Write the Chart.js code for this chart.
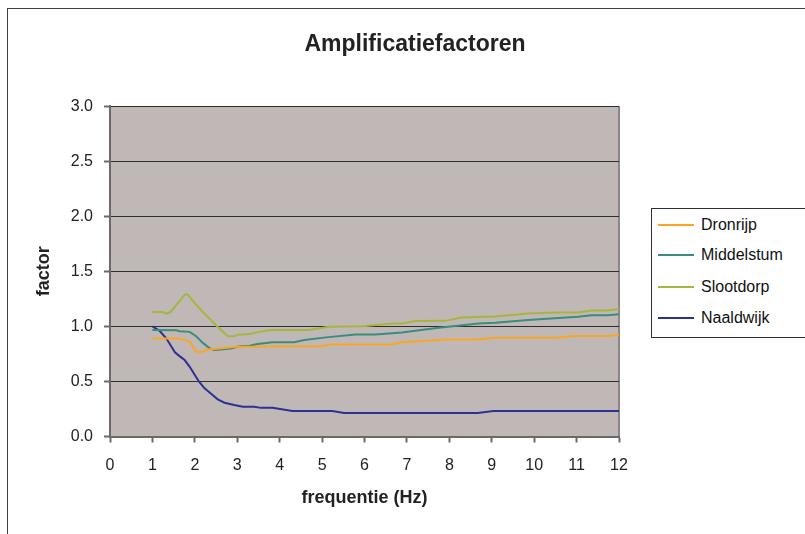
<!DOCTYPE html>
<html>
<head>
<meta charset="utf-8">
<script src="https://cdn.jsdelivr.net/npm/chart.js@4.4.1/dist/chart.umd.min.js"></script>
<style>
  body { margin: 0; background: #fff; overflow: hidden; }
  #wrap { position: relative; width: 805px; height: 534px; overflow: hidden; }
  #frame { position: absolute; left: 7px; top: 8px; width: 900px; height: 600px; border: 1px solid #404040; }
  #chart { position: absolute; left: 0; top: 0; }
  #legend { position: absolute; left: 651px; top: 208px; width: 160px; height: 128px;
            border: 1px solid #303030; background: #fff;
            font-family: "Liberation Sans", Arial, sans-serif; font-size: 16px; color: #111; }
  .item { position: absolute; left: 0; height: 20px; line-height: 20px; white-space: nowrap; }
  .swatch { position: absolute; left: 6px; top: 9px; width: 36px; height: 2px; }
  .label { position: absolute; left: 49px; top: 0; }
</style>
</head>
<body>
<div id="wrap">
  <div id="frame"></div>
  <canvas id="chart" width="805" height="534"></canvas>
  <div id="legend"></div>
</div>
<script>
// data
const seriesNames = ["Dronrijp", "Middelstum", "Slootdorp", "Naaldwijk"];
const seriesColors = ["#fba524", "#3a8c7e", "#a8b53c", "#2e3193"];

const dronrijpFreq = [1.0, 1.6, 1.76, 1.88, 2.03, 2.19, 2.31, 2.58, 2.97, 3.5, 3.99, 5.0, 5.16, 6.65, 6.88, 7.75, 7.9, 8.69, 9.08, 10.49, 10.96, 11.74, 12.0];
const dronrijpFactor = [0.89, 0.89, 0.875, 0.86, 0.77, 0.77, 0.79, 0.80, 0.815, 0.815, 0.82, 0.82, 0.836, 0.836, 0.855, 0.876, 0.88, 0.88, 0.897, 0.897, 0.912, 0.912, 0.924];

const middelstumFreq = [1.0, 1.56, 1.64, 1.88, 2.03, 2.19, 2.35, 2.46, 2.62, 2.85, 3.05, 3.29, 3.48, 3.83, 4.34, 4.58, 5.09, 5.79, 6.26, 6.88, 7.75, 8.69, 9.08, 9.86, 11.03, 11.35, 11.74, 12.0];
const middelstumFactor = [0.966, 0.965, 0.955, 0.95, 0.91, 0.85, 0.80, 0.785, 0.79, 0.80, 0.82, 0.825, 0.84, 0.855, 0.855, 0.876, 0.90, 0.927, 0.927, 0.945, 0.987, 1.027, 1.033, 1.057, 1.087, 1.10, 1.10, 1.11];

const slootdorpFreq = [1.0, 1.24, 1.33, 1.43, 1.49, 1.77, 1.83, 2.0, 2.19, 2.5, 2.78, 2.93, 3.01, 3.29, 3.52, 3.80, 4.69, 5.16, 5.95, 6.65, 6.88, 7.2, 7.9, 8.29, 9.08, 9.86, 10.49, 11.03, 11.35, 11.74, 12.0];
const slootdorpFactor = [1.13, 1.13, 1.115, 1.13, 1.16, 1.29, 1.29, 1.21, 1.13, 1.01, 0.91, 0.91, 0.925, 0.93, 0.95, 0.966, 0.966, 0.996, 1.0, 1.027, 1.027, 1.048, 1.05, 1.08, 1.09, 1.117, 1.127, 1.127, 1.145, 1.145, 1.157];

const naaldwijkFreq = [1.0, 1.17, 1.33, 1.45, 1.53, 1.64, 1.76, 1.88, 2.0, 2.1, 2.23, 2.39, 2.54, 2.7, 2.93, 3.13, 3.4, 3.56, 3.83, 4.3, 5.24, 5.52, 8.67, 9.04, 12.0];
const naaldwijkFactor = [1.0, 0.96, 0.89, 0.815, 0.764, 0.73, 0.694, 0.633, 0.558, 0.497, 0.437, 0.386, 0.337, 0.307, 0.286, 0.27, 0.27, 0.26, 0.26, 0.231, 0.231, 0.213, 0.213, 0.231, 0.231];

const xTicks = [0, 1, 2, 3, 4, 5, 6, 7, 8, 9, 10, 11, 12];
const yTicks = [0, 0.5, 1.0, 1.5, 2.0, 2.5, 3.0];

const allFreq = [dronrijpFreq, middelstumFreq, slootdorpFreq, naaldwijkFreq];
const allFactor = [dronrijpFactor, middelstumFactor, slootdorpFactor, naaldwijkFactor];

const font = "'Liberation Sans', Arial, sans-serif";
const axisGrey = "#6e6868";
const textColor = "#222";

// grey-brown plot area like the old excel chart
const plotBg = {
  id: "plotBg",
  beforeDraw(chart) {
    const a = chart.chartArea;
    const ctx = chart.ctx;
    ctx.save();
    ctx.fillStyle = "#c0b8b6";
    ctx.fillRect(a.left, a.top, a.right - a.left, a.bottom - a.top);
    ctx.strokeStyle = "#8c8686";
    ctx.lineWidth = 2;
    ctx.beginPath();
    ctx.moveTo(a.right, a.top);
    ctx.lineTo(a.right, a.bottom);
    ctx.stroke();
    ctx.restore();
  }
};

const datasets = seriesNames.map((name, i) => ({
  label: name,
  data: allFreq[i].map((f, j) => ({ x: f, y: allFactor[i][j] })),
  borderColor: seriesColors[i],
  backgroundColor: seriesColors[i],
  borderWidth: 2,
  pointRadius: 0,
  tension: 0,
  showLine: true,
  xAxisID: "x",
  yAxisID: "y"
}));

new Chart(document.getElementById("chart"), {
  type: "scatter",
  data: { datasets: datasets },
  options: {
    responsive: false,
    animation: false,
    layout: { padding: { left: 25, right: 0, top: 0, bottom: 0 } },
    plugins: {
      legend: { display: false },
      tooltip: { enabled: false },
      title: {
        display: true,
        text: "Amplificatiefactoren",
        color: textColor,
        font: { family: font, size: 23, weight: "bold" },
        padding: { top: 31, bottom: 47.5 }
      }
    },
    scales: {
      x: {
        type: "linear",
        min: 0,
        max: 12,
        afterBuildTicks: s => { s.ticks = xTicks.map(v => ({ value: v })); },
        ticks: { color: textColor, font: { family: font, size: 16 }, padding: 13, maxRotation: 0 },
        grid: { drawOnChartArea: false, drawTicks: true, tickLength: 6, tickColor: axisGrey, tickWidth: 2 },
        border: { color: axisGrey, width: 2 },
        title: { display: true, text: "frequentie (Hz)", color: textColor,
                 font: { family: font, size: 18, weight: "bold" }, padding: { top: 0, bottom: 25 } },
        afterFit: s => { s.height = 97.5; }
      },
      y: {
        type: "linear",
        min: 0,
        max: 3,
        afterBuildTicks: s => { s.ticks = yTicks.map(v => ({ value: v })); },
        ticks: { color: textColor, font: { family: font, size: 16 }, padding: 11, callback: v => v.toFixed(1) },
        grid: { color: "#2e2e2e", lineWidth: 1, tickLength: 6, tickColor: axisGrey, tickWidth: 2 },
        border: { color: axisGrey, width: 2 },
        title: { display: true, text: "factor", color: textColor,
                 font: { family: font, size: 18, weight: "bold" }, padding: { top: 8, bottom: 0 } },
        afterFit: s => { s.width = 85; }
      },
      // empty scale that keeps room for the legend on the right
      spacer: {
        type: "linear",
        position: "right",
        display: true,
        grid: { display: false },
        ticks: { display: false },
        border: { display: false },
        afterFit: s => { s.width = 186; }
      }
    }
  },
  plugins: [plotBg]
});

// legend box
const legend = document.getElementById("legend");
const rowTops = [6, 36, 68, 99];
seriesNames.forEach((name, i) => {
  const item = document.createElement("div");
  item.className = "item";
  item.style.top = rowTops[i] + "px";
  item.innerHTML = '<span class="swatch" style="background:' + seriesColors[i] + '"></span><span class="label">' + name + '</span>';
  legend.appendChild(item);
});
</script>
</body>
</html>
